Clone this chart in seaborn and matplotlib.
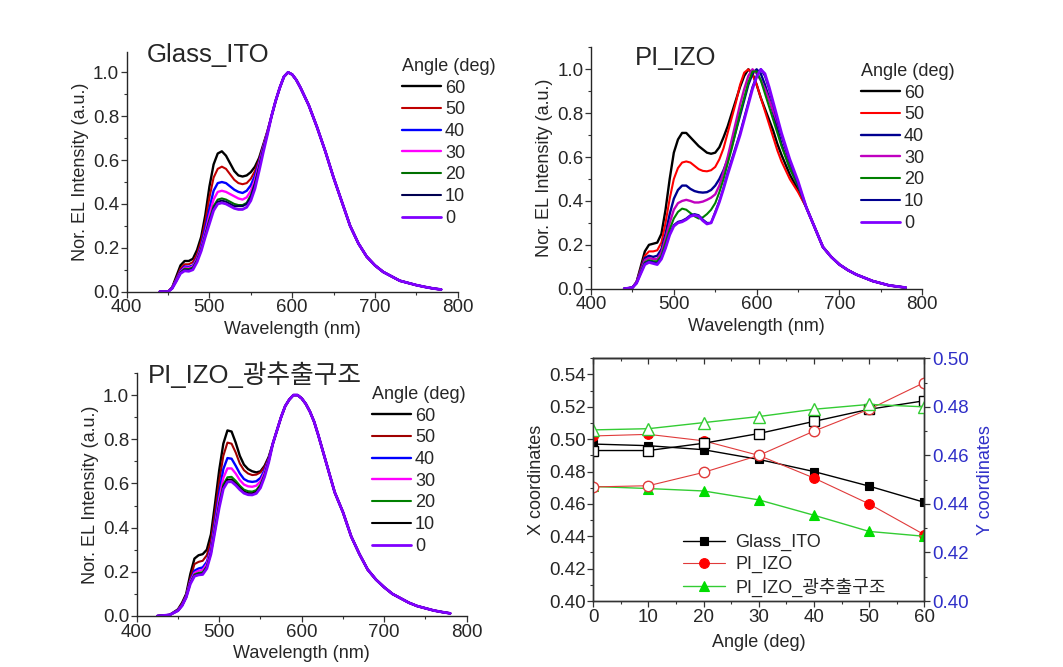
import numpy as np
import pandas as pd
import matplotlib
matplotlib.use("Agg")
import matplotlib.pyplot as plt
import seaborn as sns
from matplotlib.ticker import MultipleLocator, FormatStrFormatter

# ---------------------------------------------------------------- data
ANGLES = ["60", "50", "40", "30", "20", "10", "0"]

# Glass_ITO : per-angle short-wavelength part + common long-wavelength part
glass_wl_head = [440, 450, 455, 460, 465, 470, 475, 480, 485, 490, 495, 500, 505,
                 510, 515, 520, 525, 530, 535, 540, 545, 550, 555, 560, 565, 570]
glass_60 = [0, 0, 0.02, 0.07, 0.12, 0.14, 0.14, 0.15, 0.19, 0.25, 0.35, 0.48, 0.58,
            0.63, 0.64, 0.62, 0.585, 0.55, 0.53, 0.525, 0.53, 0.545, 0.57, 0.61, 0.67, 0.73]
glass_50 = [0, 0, 0.02, 0.06, 0.105, 0.125, 0.125, 0.135, 0.17, 0.23, 0.32, 0.43, 0.52,
            0.56, 0.57, 0.56, 0.535, 0.51, 0.495, 0.49, 0.495, 0.515, 0.55, 0.60, 0.665, 0.73]
glass_40 = [0, 0, 0.018, 0.055, 0.095, 0.115, 0.113, 0.12, 0.155, 0.21, 0.29, 0.38, 0.46,
            0.495, 0.50, 0.495, 0.48, 0.465, 0.455, 0.45, 0.46, 0.485, 0.53, 0.59, 0.66, 0.725]
glass_30 = [0, 0, 0.017, 0.053, 0.09, 0.11, 0.108, 0.115, 0.15, 0.20, 0.27, 0.35, 0.42,
            0.455, 0.46, 0.455, 0.445, 0.435, 0.425, 0.42, 0.43, 0.46, 0.51, 0.58, 0.655, 0.725]
glass_20 = [0, 0, 0.016, 0.05, 0.088, 0.105, 0.103, 0.11, 0.145, 0.195, 0.26, 0.33, 0.39,
            0.42, 0.425, 0.42, 0.41, 0.40, 0.395, 0.395, 0.405, 0.44, 0.495, 0.57, 0.65, 0.72]
glass_10 = [0, 0, 0.016, 0.05, 0.086, 0.10, 0.098, 0.105, 0.14, 0.19, 0.255, 0.32, 0.38,
            0.41, 0.415, 0.41, 0.40, 0.39, 0.39, 0.39, 0.40, 0.43, 0.49, 0.565, 0.645, 0.72]
glass_0 = [0, 0, 0.015, 0.048, 0.083, 0.095, 0.093, 0.10, 0.135, 0.185, 0.25, 0.31, 0.37,
           0.40, 0.405, 0.40, 0.39, 0.38, 0.375, 0.375, 0.385, 0.415, 0.47, 0.55, 0.635, 0.715]
glass_wl_tail = [575, 580, 585, 590, 595, 600, 605, 610, 620, 630, 640, 650, 660, 670,
                 680, 690, 700, 710, 720, 730, 740, 750, 760, 770, 780]
glass_tail = [0.80, 0.87, 0.93, 0.98, 1.0, 0.99, 0.965, 0.93, 0.85, 0.75, 0.64, 0.52, 0.41,
              0.30, 0.22, 0.16, 0.12, 0.09, 0.07, 0.05, 0.04, 0.03, 0.022, 0.015, 0.01]

# PI_IZO
pi_wl_head = [440, 450, 455, 460, 465, 470, 475, 480, 485, 490, 495, 500, 505, 510, 515,
              520, 525, 530, 535, 540, 545, 550, 555, 560, 565, 570, 575, 580, 585, 590,
              595, 600, 605, 610, 615, 620, 625, 630, 640, 650]
pi_60 = [0, 0.005, 0.03, 0.10, 0.17, 0.20, 0.205, 0.21, 0.25, 0.36, 0.50, 0.62, 0.68, 0.71,
         0.71, 0.69, 0.67, 0.65, 0.635, 0.62, 0.615, 0.62, 0.645, 0.69, 0.74, 0.80, 0.86, 0.92,
         0.97, 1.0, 0.98, 0.93, 0.87, 0.82, 0.77, 0.72, 0.66, 0.61, 0.52, 0.45]
pi_50 = [0, 0.005, 0.03, 0.09, 0.15, 0.17, 0.17, 0.175, 0.21, 0.30, 0.41, 0.50, 0.55, 0.575,
         0.58, 0.575, 0.56, 0.545, 0.537, 0.535, 0.54, 0.555, 0.59, 0.64, 0.71, 0.78, 0.85,
         0.93, 0.985, 1.0, 0.975, 0.93, 0.87, 0.81, 0.75, 0.69, 0.63, 0.58, 0.50, 0.44]
pi_40 = [0, 0.005, 0.03, 0.085, 0.14, 0.15, 0.145, 0.15, 0.18, 0.25, 0.34, 0.41, 0.45, 0.47,
         0.47, 0.455, 0.445, 0.44, 0.438, 0.44, 0.45, 0.47, 0.50, 0.54, 0.59, 0.65, 0.72,
         0.79, 0.86, 0.93, 0.98, 1.0, 0.98, 0.93, 0.87, 0.80, 0.73, 0.66, 0.55, 0.47]
pi_30 = [0, 0.005, 0.03, 0.08, 0.13, 0.14, 0.135, 0.135, 0.165, 0.23, 0.30, 0.36, 0.39, 0.40,
         0.405, 0.40, 0.393, 0.393, 0.397, 0.405, 0.415, 0.43, 0.47, 0.53, 0.60, 0.68, 0.76,
         0.84, 0.91, 0.97, 1.0, 0.98, 0.95, 0.91, 0.86, 0.81, 0.76, 0.70, 0.57, 0.48]
pi_20 = [0, 0.005, 0.025, 0.075, 0.12, 0.13, 0.125, 0.125, 0.15, 0.21, 0.27, 0.32, 0.35,
         0.365, 0.36, 0.345, 0.33, 0.32, 0.325, 0.34, 0.36, 0.39, 0.44, 0.50, 0.57, 0.64,
         0.72, 0.80, 0.87, 0.94, 0.99, 0.99, 0.95, 0.89, 0.83, 0.77, 0.71, 0.65, 0.55, 0.47]
pi_10 = [0, 0.005, 0.025, 0.07, 0.115, 0.125, 0.12, 0.115, 0.14, 0.19, 0.25, 0.29, 0.305,
         0.31, 0.32, 0.335, 0.34, 0.335, 0.315, 0.30, 0.30, 0.35, 0.40, 0.46, 0.53, 0.59,
         0.65, 0.71, 0.78, 0.85, 0.92, 0.97, 1.0, 0.97, 0.91, 0.84, 0.77, 0.70, 0.58, 0.48]
pi_0 = [0, 0.005, 0.025, 0.068, 0.11, 0.12, 0.115, 0.11, 0.135, 0.185, 0.245, 0.285, 0.30,
        0.305, 0.315, 0.33, 0.335, 0.33, 0.31, 0.295, 0.30, 0.345, 0.395, 0.455, 0.52, 0.58,
        0.64, 0.70, 0.77, 0.84, 0.91, 0.965, 1.0, 0.98, 0.92, 0.85, 0.78, 0.71, 0.59, 0.49]
pi_wl_tail = [660, 670, 680, 690, 700, 710, 720, 730, 740, 750, 760, 770, 780]
pi_tail = [0.37, 0.28, 0.19, 0.145, 0.11, 0.085, 0.065, 0.05, 0.035, 0.025, 0.015, 0.01, 0.005]

# PI_IZO_광추출구조
lec_wl_head = [425, 440, 450, 455, 460, 465, 470, 475, 480, 485, 490, 495, 500, 505, 510,
               515, 520, 525, 530, 535, 540, 545, 550, 555, 560]
lec_60 = [0, 0.005, 0.03, 0.06, 0.10, 0.19, 0.26, 0.275, 0.28, 0.30, 0.37, 0.51, 0.66, 0.78,
          0.84, 0.835, 0.785, 0.725, 0.685, 0.665, 0.655, 0.65, 0.655, 0.68, 0.72]
lec_50 = [0, 0.005, 0.028, 0.055, 0.095, 0.17, 0.235, 0.245, 0.25, 0.275, 0.34, 0.47, 0.61,
          0.725, 0.785, 0.78, 0.74, 0.69, 0.66, 0.645, 0.638, 0.64, 0.65, 0.675, 0.715]
lec_40 = [0, 0.005, 0.026, 0.05, 0.09, 0.16, 0.205, 0.215, 0.22, 0.245, 0.31, 0.43, 0.56,
          0.665, 0.715, 0.712, 0.68, 0.645, 0.62, 0.61, 0.607, 0.61, 0.625, 0.66, 0.71]
lec_30 = [0, 0.005, 0.025, 0.05, 0.088, 0.155, 0.195, 0.205, 0.208, 0.235, 0.30, 0.41, 0.53,
          0.625, 0.668, 0.668, 0.645, 0.615, 0.595, 0.587, 0.585, 0.59, 0.61, 0.65, 0.705]
lec_20 = [0, 0.005, 0.025, 0.048, 0.086, 0.15, 0.188, 0.195, 0.198, 0.225, 0.29, 0.40, 0.51,
          0.595, 0.628, 0.63, 0.612, 0.59, 0.572, 0.565, 0.563, 0.57, 0.595, 0.64, 0.70]
lec_10 = [0, 0.005, 0.024, 0.047, 0.085, 0.148, 0.183, 0.19, 0.192, 0.22, 0.285, 0.39, 0.50,
          0.585, 0.617, 0.618, 0.60, 0.58, 0.563, 0.556, 0.555, 0.562, 0.588, 0.635, 0.70]
lec_0 = [0, 0.005, 0.024, 0.046, 0.084, 0.145, 0.18, 0.186, 0.188, 0.215, 0.28, 0.385, 0.49,
         0.575, 0.607, 0.608, 0.592, 0.572, 0.556, 0.549, 0.548, 0.555, 0.58, 0.63, 0.695]
lec_wl_tail = [565, 570, 575, 580, 585, 590, 595, 600, 605, 610, 615, 620, 630, 640, 650,
               660, 670, 680, 690, 700, 710, 720, 730, 740, 750, 760, 770, 780]
lec_tail = [0.78, 0.84, 0.90, 0.95, 0.98, 1.0, 1.0, 0.985, 0.96, 0.925, 0.88, 0.82, 0.69,
            0.56, 0.47, 0.36, 0.28, 0.21, 0.165, 0.13, 0.10, 0.08, 0.06, 0.045, 0.035,
            0.025, 0.018, 0.012]

# CIE coordinates vs angle
cie_angle = [0, 10, 20, 30, 40, 50, 60]
glass_x = [0.497, 0.496, 0.4935, 0.4875, 0.480, 0.471, 0.461]
glass_y = [0.462, 0.462, 0.465, 0.469, 0.474, 0.479, 0.4825]
pi_x = [0.502, 0.503, 0.499, 0.490, 0.476, 0.460, 0.441]
pi_y = [0.447, 0.4475, 0.453, 0.460, 0.470, 0.479, 0.490]
lec_x = [0.4708, 0.4695, 0.468, 0.4625, 0.453, 0.443, 0.440]
lec_y = [0.4705, 0.471, 0.4735, 0.476, 0.479, 0.481, 0.480]

TITLES = ["Glass_ITO", "PI_IZO", "PI_IZO_광추출구조"]


def build_df(wl_head, heads, wl_tail, tail):
    rows = []
    for ang, vals in zip(ANGLES, heads):
        wl = list(wl_head) + list(wl_tail)
        v = list(vals) + list(tail)
        rows.append(pd.DataFrame({"wl": wl, "val": v, "angle": ang}))
    return pd.concat(rows, ignore_index=True)


df_glass = build_df(glass_wl_head, [glass_60, glass_50, glass_40, glass_30, glass_20, glass_10, glass_0],
                    glass_wl_tail, glass_tail)
df_pi = build_df(pi_wl_head, [pi_60, pi_50, pi_40, pi_30, pi_20, pi_10, pi_0], pi_wl_tail, pi_tail)
df_lec = build_df(lec_wl_head, [lec_60, lec_50, lec_40, lec_30, lec_20, lec_10, lec_0],
                  lec_wl_tail, lec_tail)

# ---------------------------------------------------------------- style
sns.set_theme(style="ticks")
plt.rcParams["font.family"] = ["Liberation Sans", "Noto Sans CJK KR"]
plt.rcParams["axes.linewidth"] = 1.0
FS = 13      # labels / legend
TFS = 13.5   # tick labels

W, H = 1063, 667
fig = plt.figure(figsize=(W / 100, H / 100), dpi=100)
fig.patch.set_facecolor("white")


def rect(l, r, b, t):
    return [l / W, 1 - b / H, (r - l) / W, (b - t) / H]


pal_glass = dict(zip(ANGLES, ["#000000", "#c00000", "#0000ff", "#ff00ff", "#007000", "#000050", "#8000ff"]))
pal_pi = dict(zip(ANGLES, ["#000000", "#ff0000", "#000090", "#c000c0", "#008000", "#000090", "#8000ff"]))
pal_lec = dict(zip(ANGLES, ["#000000", "#a00000", "#0000ff", "#ff00ff", "#008000", "#000000", "#8000ff"]))
lws = [1.7, 1.5, 1.7, 1.7, 1.5, 1.5, 2.0]

panels = [
    (df_glass, pal_glass, rect(126.7, 457.7, 291.7, 51.7), 1.094, (147, 62), (401.7, 58)),
    (df_pi, pal_pi, rect(591, 922.3, 288.7, 46.7), 1.103, (635, 65), (860.7, 63)),
    (df_lec, pal_lec, rect(136.7, 466.7, 616, 373), 1.10, (148, 383.3), (371.7, 386)),
]

for i, (df, pal, rc, ytop, tpos, lpos) in enumerate(panels):
    ax = fig.add_axes(rc)
    sns.lineplot(data=df, x="wl", y="val", hue="angle", hue_order=ANGLES, palette=pal,
                 estimator=None, sort=False, legend=False, ax=ax, linewidth=1.6)
    lines = ax.get_lines()[:7]
    for ln, lw in zip(lines, lws):
        ln.set_linewidth(lw)
    ax.set_xlim(400, 800)
    ax.set_ylim(0, ytop)
    ax.xaxis.set_major_locator(MultipleLocator(100))
    ax.xaxis.set_minor_locator(MultipleLocator(50))
    ax.yaxis.set_major_locator(MultipleLocator(0.2))
    ax.yaxis.set_minor_locator(MultipleLocator(0.1))
    ax.yaxis.set_major_formatter(FormatStrFormatter("%.1f"))
    for s in ["top", "right"]:
        ax.spines[s].set_visible(False)
    ax.tick_params(which="major", direction="out", length=4, width=0.9, labelsize=TFS, pad=1.5, color="#333333")
    ax.tick_params(which="minor", direction="out", length=2.5, width=0.8, color="#333333")
    ax.set_xlabel("Wavelength (nm)", fontsize=FS, labelpad=3)
    ax.set_ylabel("Nor. EL Intensity (a.u.)", fontsize=FS, labelpad=3)
    ax.set_facecolor("white")
    fig.text(tpos[0] / W, 1 - tpos[1] / H, TITLES[i], fontsize=18.5, va="baseline", ha="left")
    ax.legend(handles=lines, labels=ANGLES, title="Angle (deg)", loc="upper left",
              bbox_to_anchor=(lpos[0] / W, 1 - lpos[1] / H), bbox_transform=fig.transFigure,
              frameon=False, fontsize=FS, title_fontsize=FS, handlelength=2.2,
              handletextpad=0.2, labelspacing=0.26, borderpad=0, borderaxespad=0,
              alignment="left")

# ---------------------------------------------------------------- CIE panel
ax4 = fig.add_axes(rect(593.3, 924.3, 601, 358.3))
ax4b = ax4.twinx()
BLUE = "#2f2fc8"

cie_specs = [
    ("Glass_ITO", glass_x, glass_y, "#000000", "#000000", "#000000", "s", 6.0, 1.0),
    ("PI_IZO", pi_x, pi_y, "#e03a3a", "#ff0000", "#e03a3a", "o", 7.0, 0.8),
    ("PI_IZO_광추출구조", lec_x, lec_y, "#33cc33", "#00dd00", "#33cc33", "^", 7.5, 1.0),
]
handles = []
for name, xs, ys, lc, mc, oc, mk, ms, lw in cie_specs:
    sns.lineplot(x=cie_angle, y=xs, ax=ax4, color=lc, linewidth=lw, marker=mk,
                 markersize=ms, markerfacecolor=mc, markeredgecolor=mc, markeredgewidth=0.8,
                 estimator=None, legend=False)
    handles.append(ax4.get_lines()[-1])
    sns.lineplot(x=cie_angle, y=ys, ax=ax4b, color=lc, linewidth=lw, marker=mk,
                 markersize=ms + 0.5, markerfacecolor="white", markeredgecolor=oc,
                 markeredgewidth=1.0, estimator=None, legend=False)

ax4.set_xlim(0, 60)
ax4.set_ylim(0.40, 0.55)
ax4b.set_ylim(0.40, 0.50)
ax4.xaxis.set_major_locator(MultipleLocator(10))
ax4.xaxis.set_minor_locator(MultipleLocator(5))
ax4.yaxis.set_major_locator(MultipleLocator(0.02))
ax4.yaxis.set_minor_locator(MultipleLocator(0.01))
ax4.yaxis.set_major_formatter(FormatStrFormatter("%.2f"))
ax4b.yaxis.set_major_locator(MultipleLocator(0.02))
ax4b.yaxis.set_minor_locator(MultipleLocator(0.01))
ax4b.yaxis.set_major_formatter(FormatStrFormatter("%.2f"))
for a in (ax4, ax4b):
    for s in a.spines.values():
        s.set_visible(True)
        s.set_color("#333333")
ax4.tick_params(which="major", direction="out", length=4, width=0.9, labelsize=TFS, pad=1.5, color="#333333")
ax4.tick_params(which="minor", direction="out", length=2.5, width=0.8, color="#333333")
ax4b.tick_params(which="major", direction="out", length=4, width=0.9, labelsize=TFS, pad=1.5,
                 labelcolor=BLUE, color="#333333")
ax4b.tick_params(which="minor", direction="out", length=2.5, width=0.8, color="#333333")
sec = ax4.secondary_xaxis("top")
sec.xaxis.set_major_locator(MultipleLocator(10))
sec.xaxis.set_minor_locator(MultipleLocator(5))
sec.tick_params(which="major", direction="in", length=4, width=0.9, labeltop=False, color="#333333")
sec.tick_params(which="minor", direction="in", length=2.5, width=0.8, color="#333333")
sec.spines["top"].set_color("#333333")

ax4.set_xlabel("Angle (deg)", fontsize=FS, labelpad=6)
ax4.set_ylabel("X coordinates", fontsize=FS, labelpad=3)
ax4b.set_ylabel("Y coordinates", fontsize=FS, color=BLUE, rotation=90, labelpad=6)

ax4.legend(handles=handles, labels=[c[0] for c in cie_specs], loc="upper left",
           bbox_to_anchor=(683 / W, 1 - 534 / H), bbox_transform=fig.transFigure,
           frameon=False, fontsize=FS, handlelength=2.3, handletextpad=0.6,
           labelspacing=0.26, borderpad=0, borderaxespad=0)

fig.savefig("out.png", dpi=100, facecolor="white")
